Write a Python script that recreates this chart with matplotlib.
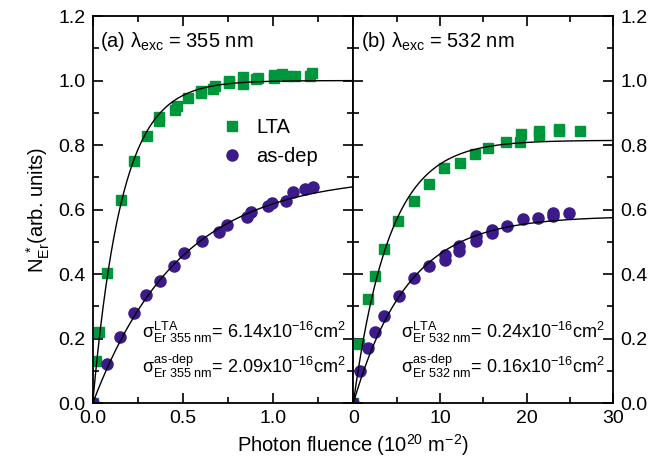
import matplotlib.pyplot as plt
import numpy as np
from matplotlib.ticker import MultipleLocator

plt.rcParams['font.family'] = ['Liberation Sans', 'DejaVu Sans']
plt.rcParams['mathtext.fontset'] = 'custom'
plt.rcParams['mathtext.rm'] = 'Liberation Sans'
plt.rcParams['mathtext.it'] = 'Liberation Sans'
plt.rcParams['mathtext.sf'] = 'Liberation Sans'

green = '#00963c'
purple = '#3c1a8a'

# (a) 355 nm excitation, fluence in 1e20 m^-2
x355_lta = [0.0, 0.02, 0.033, 0.078, 0.155, 0.23, 0.30, 0.37, 0.37, 0.46, 0.47,
            0.53, 0.60, 0.60, 0.67, 0.68, 0.755, 0.755, 0.835, 0.835, 0.91, 0.92,
            1.005, 1.01, 1.05, 1.08, 1.125, 1.21, 1.22]
y355_lta = [0.0, 0.13, 0.222, 0.405, 0.63, 0.752, 0.828, 0.875, 0.888, 0.91, 0.922,
            0.947, 0.96, 0.968, 0.975, 0.982, 0.992, 1.0, 0.99, 1.01, 1.005, 1.008,
            1.008, 1.018, 1.02, 1.015, 1.015, 1.013, 1.025]
x355_dep = [0.0, 0.078, 0.152, 0.229, 0.296, 0.374, 0.454, 0.51, 0.606, 0.702,
            0.748, 0.855, 0.882, 0.976, 0.994, 1.072, 1.115, 1.18, 1.226]
y355_dep = [0.0, 0.122, 0.207, 0.281, 0.336, 0.38, 0.426, 0.465, 0.503, 0.53,
            0.553, 0.576, 0.592, 0.61, 0.62, 0.627, 0.654, 0.665, 0.669]

# (b) 532 nm excitation
x532_lta = [0.0, 0.66, 1.73, 2.5, 3.55, 5.19, 7.04, 8.73, 10.47, 12.31, 14.04,
            15.5, 17.58, 19.23, 19.31, 21.43, 21.46, 23.7, 23.75, 26.16]
y532_lta = [0.0, 0.184, 0.322, 0.395, 0.477, 0.566, 0.627, 0.679, 0.729, 0.746, 0.772,
            0.791, 0.809, 0.811, 0.835, 0.844, 0.832, 0.851, 0.845, 0.844]
x532_dep = [0.0, 0.77, 1.66, 2.5, 3.58, 5.3, 7.04, 8.77, 10.58, 10.58, 12.2, 12.2,
            14.12, 14.12, 16.04, 16.04, 17.7, 19.62, 21.35, 23.0, 23.0, 24.89]
y532_dep = [0.0, 0.101, 0.17, 0.222, 0.269, 0.333, 0.388, 0.424, 0.46, 0.444, 0.486, 0.473,
            0.519, 0.504, 0.537, 0.527, 0.55, 0.571, 0.574, 0.591, 0.579, 0.589]

# fit: N = A (1 - exp(-sigma * phi)), sigma in 1e-16 cm^2
fit355 = {'lta': (1.0, 6.14), 'dep': (0.705, 2.09)}
fit532 = {'lta': (0.815, 0.24), 'dep': (0.58, 0.16)}

fig = plt.figure(figsize=(6.65, 4.63), dpi=100)
axL = fig.add_axes([0.1394, 0.1289, 0.3919, 0.8365])
axR = fig.add_axes([0.5313, 0.1289, 0.3910, 0.8365])

def style(ax, xmaj, xmin):
    ax.set_ylim(0, 1.2)
    ax.yaxis.set_major_locator(MultipleLocator(0.2))
    ax.yaxis.set_minor_locator(MultipleLocator(0.1))
    ax.xaxis.set_major_locator(MultipleLocator(xmaj))
    ax.xaxis.set_minor_locator(MultipleLocator(xmin))
    ax.tick_params(which='both', direction='in', top=True, bottom=True,
                   left=True, right=True, labelsize=14, width=1.2)
    ax.tick_params(which='major', length=7, pad=5)
    ax.tick_params(which='minor', length=4)
    for s in ax.spines.values():
        s.set_linewidth(1.3)

def panel(ax, xl, yl, xd, yd, fit, xmax):
    phi = np.linspace(0, xmax, 400)
    for A, sg in fit.values():
        ax.plot(phi, A * (1 - np.exp(-sg * phi)), color='black', lw=1.0, zorder=3)
    ax.plot(xl, yl, 's', color=green, ms=7, mec=green, zorder=2, label='LTA')
    ax.plot(xd, yd, 'o', color=purple, ms=8, mec=purple, zorder=2, label='as-dep')
    ax.set_xlim(0, xmax)

panel(axL, x355_lta, y355_lta, x355_dep, y355_dep, fit355, 1.448)
panel(axR, x532_lta, y532_lta, x532_dep, y532_dep, fit532, 30)
style(axL, 0.5, 0.25)
style(axR, 10, 5)
axL.xaxis.set_major_formatter(lambda v, p: f'{v:.1f}')
axR.tick_params(labelleft=False, labelright=True)

axL.set_ylabel(r'N$^{\ *}_{\mathrm{Er}}$(arb. units)', fontsize=14.5, labelpad=5)
fig.text(0.531, 0.025, r'Photon fluence (10$^{20}$ m$^{-2}$)', ha='center', fontsize=14.5)

axL.text(0.028, 0.933, r'(a) $\lambda_{\mathrm{exc}}$ = 355 nm', transform=axL.transAxes,
         fontsize=14.5, va='center')
axR.text(0.03, 0.933, r'(b) $\lambda_{\mathrm{exc}}$ = 532 nm', transform=axR.transAxes,
         fontsize=14.5, va='center')

axL.legend(loc='center left', bbox_to_anchor=(0.42, 0.675), frameon=False, fontsize=14.5,
           handletextpad=0.6, labelspacing=0.5, handlelength=1.2)

anno = [(axL, '355', '6.14', '2.09', 0.972), (axR, '532', '0.24', '0.16', 0.968)]
for ax, wl, s1, s2, xr in anno:
    ax.text(xr, 0.169, r'$\sigma^{\mathrm{LTA}}_{\mathrm{Er\ ' + wl + r'\ nm}}$= ' + s1 +
            r'x10$^{-16}$cm$^{2}$', transform=ax.transAxes, ha='right', va='baseline', fontsize=13)
    ax.text(xr, 0.0775, r'$\sigma^{\text{as-dep}}_{\mathrm{Er\ ' + wl + r'\ nm}}$= ' + s2 +
            r'x10$^{-16}$cm$^{2}$', transform=ax.transAxes, ha='right', va='baseline', fontsize=13)

fig.savefig('out.png', dpi=100)
